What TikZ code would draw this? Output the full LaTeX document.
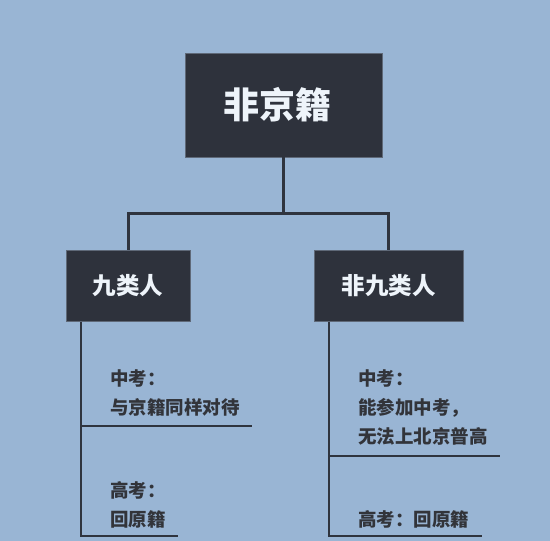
\documentclass[tikz,border=0pt]{standalone}
\usepackage{fontspec}
\setmainfont{Noto Sans CJK SC}
\usepackage{xcolor}
\usepackage{tikz}
\usetikzlibrary{positioning}

\definecolor{bgblue}{RGB}{153,181,212}
\definecolor{boxdark}{RGB}{46,50,60}
\definecolor{boxedge}{RGB}{95,105,120}
\definecolor{linedark}{RGB}{47,52,62}
\definecolor{textdark}{RGB}{50,52,58}
\definecolor{textlight}{RGB}{238,244,250}

\begin{document}
\begin{tikzpicture}[x=1pt, y=-1pt,
  topbox/.style={draw=boxedge, fill=boxdark, text=textlight, font=\bfseries, inner sep=0pt},
  note/.style={anchor=west, align=left, text=textdark, inner sep=0pt,
    font=\fontsize{18.5}{29}\selectfont\bfseries},
  link/.style={draw=linedark, line width=3pt},
  branch/.style={draw=linedark, line width=1.6pt}]
\useasboundingbox[fill=bgblue] (0,0) rectangle (550,541);

% boxes
\node[topbox, minimum width=197pt, minimum height=104pt, font=\fontsize{36}{40}\selectfont\bfseries] (root) at (283.5,105) {非京籍\kern12pt};
\node[topbox, minimum width=124pt, minimum height=71pt, font=\fontsize{23.5}{28}\selectfont\bfseries] (nine) at (128,285.5) {九类人};
\node[topbox, minimum width=149pt, minimum height=71pt, font=\fontsize{23.5}{28}\selectfont\bfseries] (other) at (388.5,285.5) {非九类人};

% tree lines
\coordinate (fork) at (283.5,213);
\draw[link] (root.south) -- (fork);
\draw[link] (nine.north) |- (fork) -| (other.north);

% left side
\coordinate (nineA) at (81,321.5);
\coordinate (nineB) at (81,426);
\coordinate (nineC) at (81,536);
\draw[branch] (nineA) -- (nineC) -- ++(97,0);
\draw[branch] (nineB) -- ++(171,0);
\node[note] (nineZK) at (110,393.5) {中考：\\与京籍同样对待};
\node[note] (nineGK) at (110,504.5) {高考：\\回原籍};

% right side
\coordinate (otherA) at (329,321.5);
\coordinate (otherB) at (329,456);
\coordinate (otherC) at (329,536);
\draw[branch] (otherA) -- (otherC) -- ++(153,0);
\draw[branch] (otherB) -- ++(171,0);
\node[note] (otherZK) at (358,408) {中考：\\能参加中考，\\无法上北京普高};
\node[note] (otherGK) at (358,519) {高考：回原籍};
\end{tikzpicture}
\end{document}
